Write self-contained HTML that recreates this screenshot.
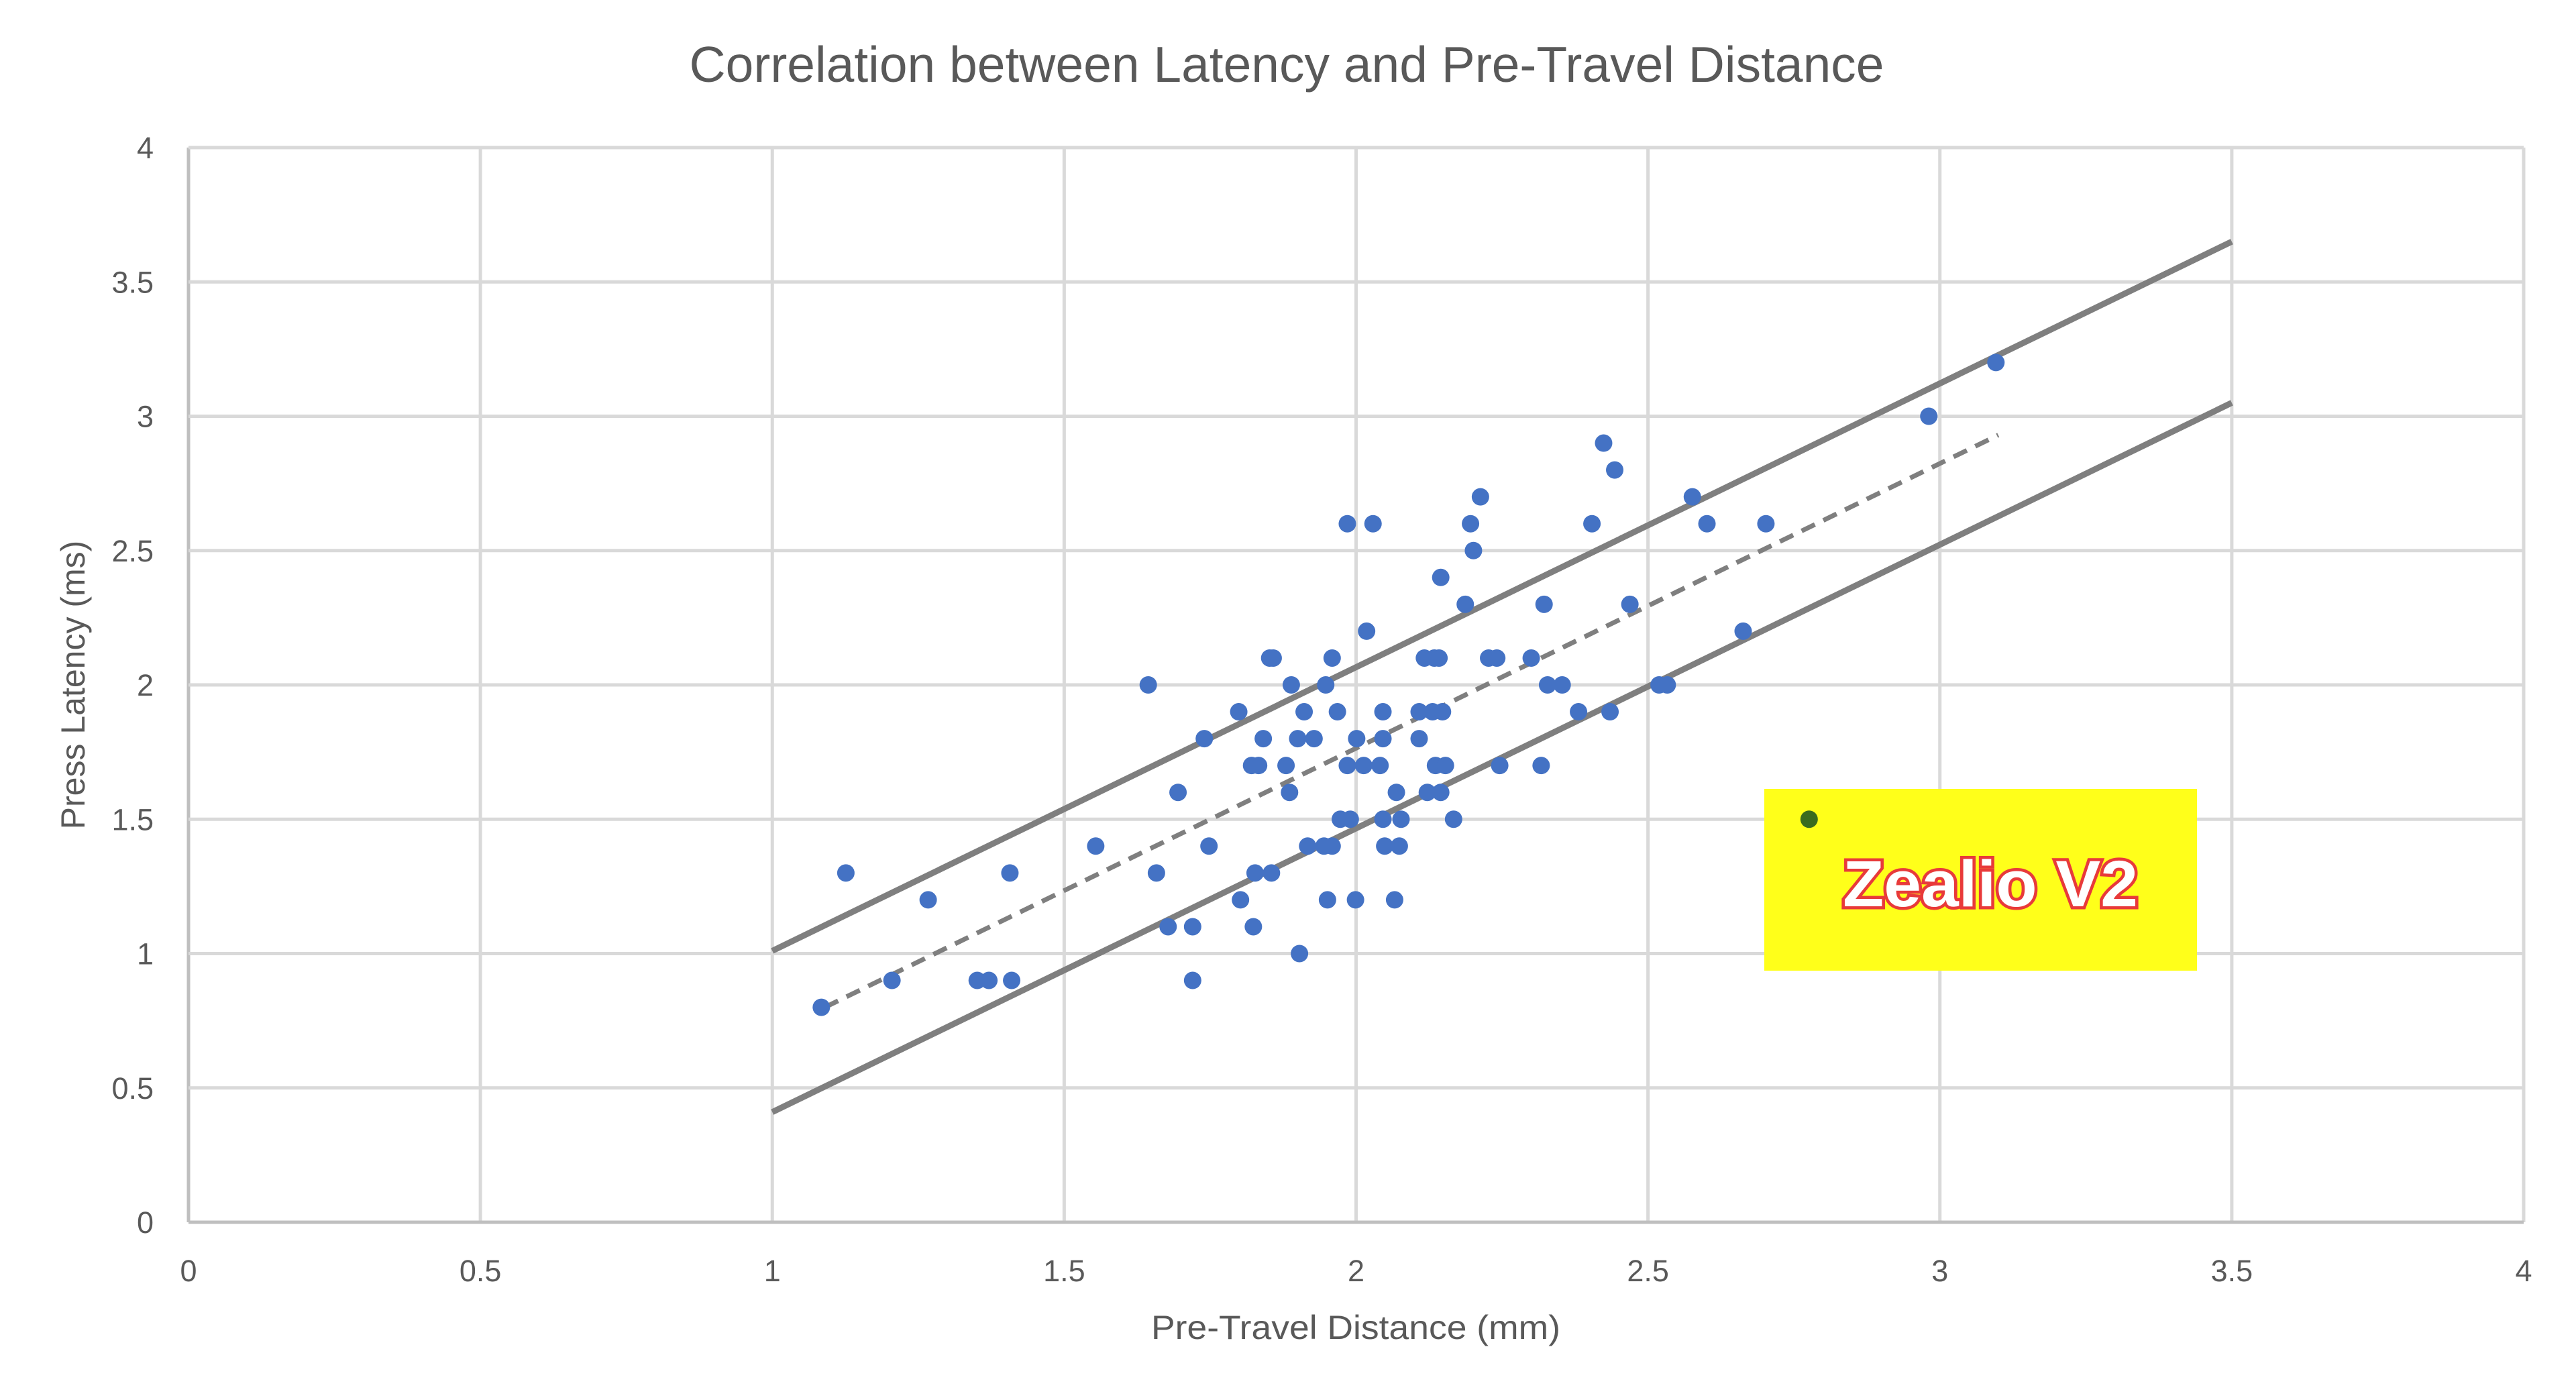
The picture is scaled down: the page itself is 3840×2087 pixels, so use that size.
<!DOCTYPE html>
<html><head><meta charset="utf-8"><style>
html,body{margin:0;padding:0;background:#fff;}
svg{display:block;}
text{font-family:"Liberation Sans",sans-serif;}
</style></head><body>
<svg id="chart" width="3840" height="2087" viewBox="0 0 3840 2087" xmlns="http://www.w3.org/2000/svg">
<rect width="3840" height="2087" fill="#fff"/>
<text x="1918" y="122" font-size="75" fill="#595959" text-anchor="middle" textLength="1781" lengthAdjust="spacingAndGlyphs">Correlation between Latency and Pre-Travel Distance</text>
<g id="grid"></g>
<g id="ticks"></g>
<rect x="2630" y="1176" width="645" height="271" fill="#ffff1a"/>
<g id="lines"></g>
<g id="points"></g>
<text x="2967" y="1351" font-size="97" font-weight="bold" fill="#fff" stroke="#e83a3a" stroke-width="9" paint-order="stroke" text-anchor="middle" textLength="440" lengthAdjust="spacingAndGlyphs">Zealio V2</text>
<text x="2021" y="1996" font-size="50" fill="#595959" text-anchor="middle" textLength="610" lengthAdjust="spacingAndGlyphs">Pre-Travel Distance (mm)</text>
<text x="0" y="0" font-size="50" fill="#595959" text-anchor="middle" transform="translate(126,1021) rotate(-90)">Press Latency (ms)</text>
</svg>
<script>
const xTicks = ["0","0.5","1","1.5","2","2.5","3","3.5","4"];
const yTicks = ["0","0.5","1","1.5","2","2.5","3","3.5","4"];
const xs = [1.084,1.126,1.205,1.267,1.351,1.371,1.407,1.41,1.554,1.644,1.658,1.678,1.695,1.72,1.72,1.74,1.748,1.799,1.802,1.821,1.824,1.827,1.833,1.841,1.852,1.858,1.855,1.88,1.886,1.889,1.9,1.903,1.911,1.917,1.928,1.945,1.948,1.951,1.959,1.959,1.968,1.973,1.985,1.985,1.99,2.001,1.999,2.013,2.018,2.029,2.041,2.046,2.046,2.046,2.049,2.066,2.069,2.074,2.077,2.108,2.108,2.117,2.122,2.131,2.134,2.136,2.142,2.145,2.145,2.148,2.153,2.167,2.187,2.196,2.201,2.213,2.227,2.241,2.246,2.3,2.317,2.322,2.328,2.353,2.381,2.404,2.424,2.435,2.443,2.469,2.519,2.533,2.576,2.601,2.663,2.702,2.981,3.096];
const ys = [0.8,1.3,0.9,1.2,0.9,0.9,1.3,0.9,1.4,2.0,1.3,1.1,1.6,1.1,0.9,1.8,1.4,1.9,1.2,1.7,1.1,1.3,1.7,1.8,2.1,2.1,1.3,1.7,1.6,2.0,1.8,1.0,1.9,1.4,1.8,1.4,2.0,1.2,2.1,1.4,1.9,1.5,1.7,2.6,1.5,1.8,1.2,1.7,2.2,2.6,1.7,1.8,1.9,1.5,1.4,1.2,1.6,1.4,1.5,1.8,1.9,2.1,1.6,1.9,2.1,1.7,2.1,2.4,1.6,1.9,1.7,1.5,2.3,2.6,2.5,2.7,2.1,2.1,1.7,2.1,1.7,2.3,2.0,2.0,1.9,2.6,2.9,1.9,2.8,2.3,2.0,2.0,2.7,2.6,2.2,2.6,3.0,3.2];
const zealioX = [2.776];
const zealioY = [1.5];
const upperLine = [[1,1.01],[3.5,3.65]];
const lowerLine = [[1,0.41],[3.5,3.05]];
const trendLine = [[1.09,0.8],[3.1,2.93]];

const NS = "http://www.w3.org/2000/svg";
const X0 = 281, X1 = 3762, Y0 = 1822, Y1 = 220;
function sx(v){ return X0 + (v/4)*(X1-X0); }
function sy(v){ return Y0 - (v/4)*(Y0-Y1); }
function mk(tag, attrs, parent){
  const e = document.createElementNS(NS, tag);
  for (const k in attrs) e.setAttribute(k, attrs[k]);
  parent.appendChild(e);
  return e;
}
const grid = document.getElementById('grid');
const ticks = document.getElementById('ticks');
xTicks.forEach((t)=>{
  const v = parseFloat(t);
  const l = mk('line',{x1:sx(v),x2:sx(v),y1:Y1,y2:Y0,stroke:v===0?'#bfbfbf':'#d9d9d9','stroke-width':5},grid);
  
  
  const tx = mk('text',{x:sx(v),y:1910,'font-size':45,fill:'#595959','text-anchor':'middle'},ticks);
  tx.textContent = t;
  
  
});
yTicks.forEach((t)=>{
  const v = parseFloat(t);
  const l = mk('line',{x1:X0,x2:X1,y1:sy(v),y2:sy(v),stroke:v===0?'#bfbfbf':'#d9d9d9','stroke-width':5},grid);
  
  
  const tx = mk('text',{x:229,y:sy(v)+16,'font-size':45,fill:'#595959','text-anchor':'end'},ticks);
  tx.textContent = t;
  
  
});
const lines = document.getElementById('lines');
function drawLine(pts, dash, w, name){
  const l = mk('line',{x1:sx(pts[0][0]),y1:sy(pts[0][1]),x2:sx(pts[1][0]),y2:sy(pts[1][1]),stroke:'#7f7f7f','stroke-width':w},lines);
  if (dash) l.setAttribute('stroke-dasharray', dash);
  
  
}
drawLine(upperLine, null, 9, 'upper-bound-line');
drawLine(lowerLine, null, 9, 'lower-bound-line');
drawLine(trendLine, '22 14', 7, 'trend-line');
const pts = document.getElementById('points');
xs.forEach((x,i)=>{
  const c = mk('circle',{cx:sx(x),cy:sy(ys[i]),r:13,fill:'#4472c4'},pts);
  
  
});
zealioX.forEach((x,i)=>{
  const c = mk('circle',{cx:sx(x),cy:sy(zealioY[i]),r:13,fill:'#3a6b1e'},pts);
  
  
});
</script>
</body></html>
